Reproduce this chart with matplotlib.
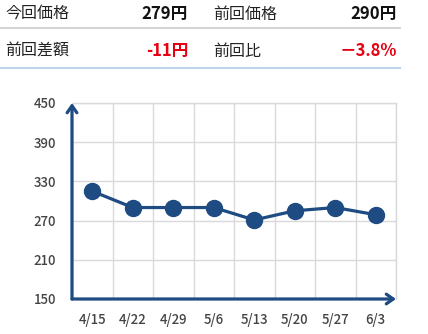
import matplotlib
matplotlib.use("Agg")
import matplotlib.pyplot as plt

plt.rcParams['font.family'] = ['Noto Sans CJK JP', 'DejaVu Sans']

dates = ["4/15", "4/22", "4/29", "5/6", "5/13", "5/20", "5/27", "6/3"]
prices = [315, 290, 290, 290, 271, 285, 290, 279]
yticks = [150, 210, 270, 330, 390, 450]

header_labels = [["今回価格", "前回価格"], ["前回差額", "前回比"]]
header_values = [["279円", "290円"], ["-11円", "－3.8%"]]
header_colors = [["#111111", "#111111"], ["#e60012", "#e60012"]]

W, H = 428, 334
fig = plt.figure(figsize=(W / 100, H / 100), dpi=100)

# header table
row_y = [14, 51]
line_y = [28, 68]
line_c = ["#d4d4d4", "#bcd3ea"]
col_lx = [5, 213]
col_rx = [188, 397]
for r in range(2):
    for c in range(2):
        fig.text(col_lx[c] / W, 1 - row_y[r] / H, header_labels[r][c],
                 fontsize=11.5, color="#222222", ha="left", va="center")
        fig.text(col_rx[c] / W, 1 - row_y[r] / H, header_values[r][c],
                 fontsize=12, color=header_colors[r][c], ha="right", va="center",
                 fontweight="bold")
    fig.add_artist(plt.Line2D([0, 400 / W], [1 - line_y[r] / H] * 2,
                              color=line_c[r], lw=1.5, transform=fig.transFigure))

# chart
left, right, top, bottom = 72, 396, 103, 299
ax = fig.add_axes([left / W, 1 - bottom / H, (right - left) / W, (bottom - top) / H])
x = [i + 0.5 for i in range(len(dates))]
col = "#1d4b82"
ax.plot(x, prices, color=col, lw=2.3, marker="o", ms=11.5, zorder=3)
ax.set_xlim(0, len(dates))
ax.set_ylim(150, 450)
ax.set_yticks(yticks)
ax.set_xticks(x)
ax.set_xticklabels(dates)
ax.set_xticks(range(len(dates) + 1), minor=True)
ax.grid(True, which="minor", axis="x", color="#d9d9d9", lw=1)
ax.grid(True, which="major", axis="y", color="#d9d9d9", lw=1)
ax.tick_params(which="both", length=0)
ax.tick_params(axis="y", pad=11.5, labelsize=9.5, labelcolor="#444444")
ax.tick_params(axis="x", pad=10, labelsize=9.5, labelcolor="#444444")
for lab in ax.get_xticklabels() + ax.get_yticklabels():
    lab.set_fontweight("medium")
for s in ["top", "right"]:
    ax.spines[s].set_color("#d9d9d9")
    ax.spines[s].set_linewidth(1)
for s in ["left", "bottom"]:
    ax.spines[s].set_visible(False)
ax.annotate("", xy=(0, 1), xytext=(0, 0), xycoords="axes fraction",
            arrowprops=dict(arrowstyle="->,head_length=0.5,head_width=0.35", color=col, lw=2.3,
                            shrinkA=0, shrinkB=0), annotation_clip=False)
ax.annotate("", xy=(1, 0), xytext=(0, 0), xycoords="axes fraction",
            arrowprops=dict(arrowstyle="->,head_length=0.5,head_width=0.35", color=col, lw=2.3,
                            shrinkA=0, shrinkB=0), annotation_clip=False)

fig.savefig("out.png", dpi=100)
